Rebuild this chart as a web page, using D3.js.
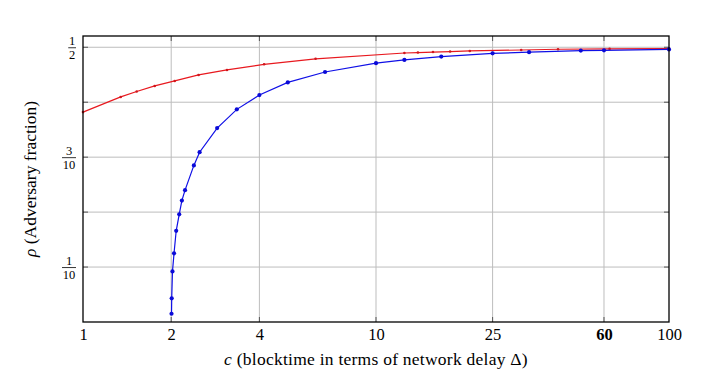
<!DOCTYPE html>
<html>
<head>
<meta charset="utf-8">
<script src="https://cdn.jsdelivr.net/npm/d3@7"></script>
<style>
  html, body { margin: 0; padding: 0; background: #fff; }
  svg { display: block; }
</style>
</head>
<body>
<svg id="chart" width="713" height="392"></svg>
<script>
// ---- data ----
const xTicks = [1, 2, 4, 10, 25, 60, 100];
const xTickLabels = ["1", "2", "4", "10", "25", "60", "100"];
const xGrid = [2, 4, 10, 25, 60];
const yGrid = [0.1, 0.2, 0.3, 0.4, 0.5];
const yTickVals = [0.1, 0.3, 0.5];
const yTickNum = ["1", "3", "1"];
const yTickDen = ["10", "10", "2"];

const blueC   = [2.005, 2.008, 2.02, 2.045, 2.08, 2.13, 2.175, 2.23, 2.39, 2.5, 2.87, 3.35, 4, 5, 6.7, 10, 12.5, 16.7, 25, 33.3, 50, 60, 100];
const blueRho = [0.015, 0.043, 0.092, 0.125, 0.166, 0.196, 0.221, 0.24, 0.285, 0.309, 0.353, 0.387, 0.413, 0.436, 0.455, 0.471, 0.477, 0.483, 0.489, 0.491, 0.494, 0.4945, 0.496];

const redC   = [1, 1.345, 1.525, 1.757, 2.056, 2.48, 3.1, 4.15, 6.22, 12.5, 13.9, 15.65, 17.9, 20.9, 31.3, 41.8, 62.7, 100];
const redRho = [0.382, 0.4096, 0.4195, 0.4296, 0.4387, 0.4496, 0.4587, 0.469, 0.479, 0.4896, 0.4904, 0.4913, 0.4922, 0.4933, 0.495, 0.4964, 0.497, 0.4975];

const FONT = "'Liberation Serif', 'Times New Roman', 'DejaVu Serif', serif";

// ---- layout ----
const L = 83, R = 669, T = 36, B = 322;
const svg = d3.select("#chart");
const x = d3.scaleLog().domain([1, 100]).range([L, R]);
const y = d3.scaleLinear().domain([0, 0.5205]).range([B, T]);

// grid
const grid = svg.append("g").attr("stroke", "#bdbdbd").attr("stroke-width", 1);
grid.selectAll(".gx").data(xGrid).join("line")
  .attr("x1", d => x(d)).attr("x2", d => x(d)).attr("y1", T).attr("y2", B);
grid.selectAll(".gy").data(yGrid).join("line")
  .attr("x1", L).attr("x2", R).attr("y1", d => y(d)).attr("y2", d => y(d));

// inner tick marks on all sides
const tk = svg.append("g").attr("stroke", "#555").attr("stroke-width", 1);
const tl = 5;
xGrid.forEach(d => {
  tk.append("line").attr("x1", x(d)).attr("x2", x(d)).attr("y1", B).attr("y2", B - tl);
  tk.append("line").attr("x1", x(d)).attr("x2", x(d)).attr("y1", T).attr("y2", T + tl);
});
yGrid.forEach(d => {
  tk.append("line").attr("x1", L).attr("x2", L + tl).attr("y1", y(d)).attr("y2", y(d));
  tk.append("line").attr("x1", R).attr("x2", R - tl).attr("y1", y(d)).attr("y2", y(d));
});

// series
const line = d3.line().x(d => x(d[0])).y(d => y(d[1]));
const red = redC.map((c, i) => [c, redRho[i]]);
const blue = blueC.map((c, i) => [c, blueRho[i]]);

svg.append("path").datum(red).attr("d", line)
  .attr("fill", "none").attr("stroke", "#e8191f").attr("stroke-width", 1.2);
svg.append("g").selectAll("circle").data(red).join("circle")
  .attr("cx", d => x(d[0])).attr("cy", d => y(d[1])).attr("r", 1.3).attr("fill", "#d0161c");

svg.append("path").datum(blue).attr("d", line)
  .attr("fill", "none").attr("stroke", "#1010e6").attr("stroke-width", 1.2);
svg.append("g").selectAll("circle").data(blue).join("circle")
  .attr("cx", d => x(d[0])).attr("cy", d => y(d[1])).attr("r", 2.1).attr("fill", "#0a0ad8");

// frame
svg.append("rect").attr("x", L).attr("y", T).attr("width", R - L).attr("height", B - T)
  .attr("fill", "none").attr("stroke", "#000").attr("stroke-width", 1.3);

// x axis labels
const xAxis = d3.axisBottom(x).tickValues(xTicks)
  .tickFormat((d, i) => xTickLabels[i]).tickSize(0).tickPadding(6);
const gx = svg.append("g").attr("transform", `translate(0,${B})`).call(xAxis)
  .attr("font-family", FONT).attr("font-size", 16.5);
gx.select(".domain").remove();
gx.selectAll("text").attr("font-family", FONT).attr("font-size", 16.5).attr("fill", "#000")
  .attr("font-weight", d => d === 60 ? "bold" : "normal");

// y axis fraction labels
const yAxis = d3.axisLeft(y).tickValues(yTickVals).tickSize(0).tickFormat(() => "");
const gy = svg.append("g").attr("transform", `translate(${L},0)`).call(yAxis)
  .attr("font-family", FONT);
gy.select(".domain").remove();
gy.selectAll(".tick").each(function (d, i) {
  const g = d3.select(this);
  g.selectAll("text").remove();
  const num = g.append("text").text(yTickNum[i]).attr("font-size", 12.5).attr("font-family", FONT)
    .attr("fill", "#000").attr("text-anchor", "middle").attr("y", -2.5);
  const den = g.append("text").text(yTickDen[i]).attr("font-size", 12.5).attr("font-family", FONT)
    .attr("fill", "#000").attr("text-anchor", "middle").attr("y", 11);
  const w = Math.max(num.node().getComputedTextLength(), den.node().getComputedTextLength()) + 1.5;
  const cx = -7 - w / 2;
  num.attr("x", cx); den.attr("x", cx);
  g.append("line").attr("x1", cx - w / 2).attr("x2", cx + w / 2)
    .attr("y1", 0).attr("y2", 0).attr("stroke", "#000").attr("stroke-width", 0.8);
});

// axis titles
const xt = svg.append("text").attr("x", (L + R) / 2).attr("y", 365)
  .attr("text-anchor", "middle").attr("font-size", 17.5).attr("letter-spacing", 0.25)
  .attr("font-family", FONT).attr("fill", "#000");
xt.append("tspan").attr("font-style", "italic").text("c");
xt.append("tspan").text(" (blocktime in terms of network delay Δ)");

const yt = svg.append("text")
  .attr("transform", `translate(36,${(T + B) / 2}) rotate(-90)`)
  .attr("text-anchor", "middle").attr("font-size", 17.5).attr("font-family", FONT).attr("fill", "#000");
yt.append("tspan").attr("font-style", "italic").text("ρ");
yt.append("tspan").text(" (Adversary fraction)");
</script>
</body>
</html>
